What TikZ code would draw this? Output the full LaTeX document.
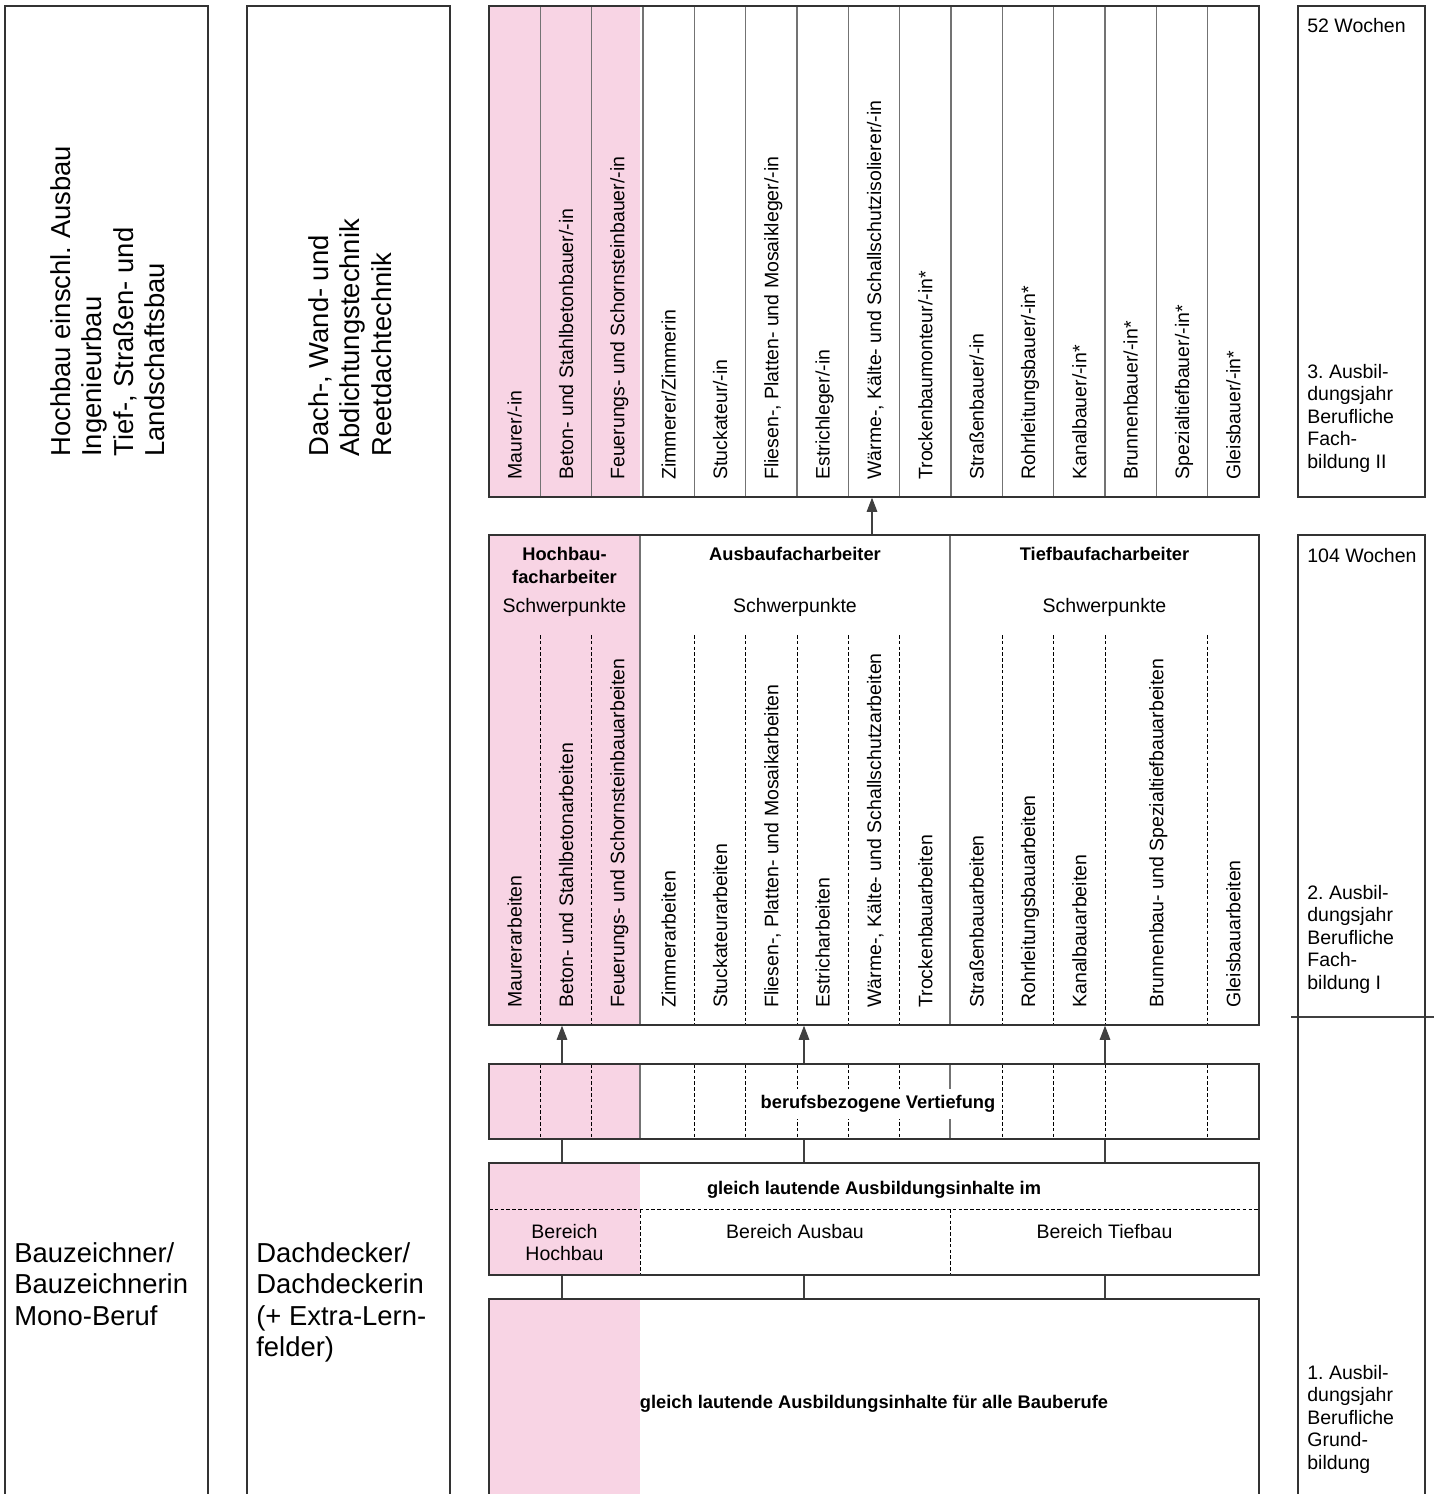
\documentclass[tikz,border=0pt]{standalone}
\usepackage{fontspec}
\setmainfont{Liberation Sans}
\usetikzlibrary{fit,arrows.meta}
\definecolor{hochbaupink}{RGB}{248,212,228}
\tikzset{
  kasten/.style={draw=black!80,line width=0.8pt,inner sep=0pt},
  sep/.style={black!55,line width=0.9pt},
  dotsep/.style={black,line width=0.45pt,dash pattern=on 2pt off 1.3pt},
  beruf/.style={rotate=90,anchor=base west,inner sep=0pt,font=\fontsize{11.1}{12.8}\selectfont},
  txt/.style={inner sep=0pt,align=left,font=\fontsize{11.1}{12.8}\selectfont},
  head/.style={inner sep=0pt,align=center,font=\fontsize{10.4}{13.1}\selectfont\bfseries},
  big/.style={inner sep=0pt,align=left,font=\fontsize{15.6}{17.9}\selectfont},
  arr/.style={black!75,line width=0.6pt,-{Triangle[length=8pt,width=6pt]}},
  link/.style={black!75,line width=0.6pt}
}
\newcommand\colw{51.333}
\frenchspacing
\begin{document}
\begin{tikzpicture}[x=0.02cm,y=-0.02cm]
\clip (0,0) rectangle (1434,1494);
\fill[white] (0,0) rectangle (1434,1494);

\fill[hochbaupink] (489,6) rectangle (640,497);
\fill[hochbaupink] (489,535) rectangle (640,1025);
\fill[hochbaupink] (489,1064) rectangle (640,1139);
\fill[hochbaupink] (489,1163) rectangle (640,1275);
\fill[hochbaupink] (489,1299) rectangle (640,1510);

\foreach \i in {1,...,14}
  \draw[sep] ({489+\i*\colw},6) -- ({489+\i*\colw},497);
\foreach \xx in {640,950} {
  \draw[sep] (\xx,535) -- (\xx,1025);
  \draw[sep] (\xx,1064) -- (\xx,1139);
  \draw[dotsep] (\xx,1209) -- (\xx,1275);
}
\foreach \i in {1,2,4,5,6,7,8,10,11,12,14} {
  \draw[dotsep] ({489+\i*\colw},635) -- ({489+\i*\colw},1025);
  \draw[dotsep] ({489+\i*\colw},1064) -- ({489+\i*\colw},1139);
}
\draw[dotsep] (489,1209) -- (1259,1209);
\draw[sep,black!75] (1291,1017) -- (1434,1017);

\node[kasten,fit={(5,6) (208,1510)}] (feld1) {};
\node[kasten,fit={(247,6) (450,1510)}] (feld2) {};
\node[kasten,fit={(489,6) (1259,497)}] (berufe) {};
\node[kasten,fit={(489,535) (1259,1025)}] (fach) {};
\node[kasten,fit={(489,1064) (1259,1139)}] (vert) {};
\node[kasten,fit={(489,1163) (1259,1275)}] (inhalt) {};
\node[kasten,fit={(489,1299) (1259,1510)}] (grund) {};
\node[kasten,fit={(1298,6) (1425,497)}] (jahr3) {};
\node[kasten,fit={(1298,535) (1425,1510)}] (jahr12) {};

\foreach \txt [count=\i] in {{Maurer/-in},{Beton- und Stahlbetonbauer/-in},{Feuerungs- und Schornsteinbauer/-in},{Zimmerer/Zimmerin},{Stuckateur/-in},{Fliesen-, Platten- und Mosaikleger/-in},{Estrichleger/-in},{Wärme-, Kälte- und Schallschutzisolierer/-in},{Trockenbaumonteur/-in*},{Straßenbauer/-in},{Rohrleitungsbauer/-in*},{Kanalbauer/-in*},{Brunnenbauer/-in*},{Spezialtiefbauer/-in*},{Gleisbauer/-in*}}
  \node[beruf] (b\i) at ({489+(\i-0.5)*\colw+7},480) {\txt};

\foreach \pos/\txt in {1/Maurerarbeiten,2/Beton- und Stahlbetonarbeiten,3/Feuerungs- und Schornsteinbauarbeiten,4/Zimmerarbeiten,5/Stuckateurarbeiten,6/{Fliesen-, Platten- und Mosaikarbeiten},7/Estricharbeiten,8/{Wärme-, Kälte- und Schallschutzarbeiten},9/Trockenbauarbeiten,10/Straßenbauarbeiten,11/Rohrleitungsbauarbeiten,12/Kanalbauarbeiten,13.5/Brunnenbau- und Spezialtiefbauarbeiten,15/Gleisbauarbeiten}
  \node[beruf] (s\pos) at ({489+(\pos-0.5)*\colw+7},1008) {\txt};

\node[head,anchor=north] (hhead) at (564.5,547) {Hochbau-\\facharbeiter};
\node[head,anchor=base] (ahead) at (795,560) {Ausbaufacharbeiter};
\node[head,anchor=base] (thead) at (1104.5,560) {Tiefbaufacharbeiter};
\foreach \xx/\n in {564.5/h,795/a,1104.5/t}
  \node[txt,anchor=base] (sp\n) at (\xx,612) {Schwerpunkte};

\node[head,fill=white,inner sep=3.5pt] (vtext) at (878,1104) {berufsbezogene Vertiefung};
\node[head,anchor=base] (itext) at (874,1194) {gleich lautende Ausbildungsinhalte im};
\node[txt,align=center,anchor=north] (bh) at (564.5,1224) {Bereich\\Hochbau};
\node[txt,anchor=base] (ba) at (795,1238) {Bereich Ausbau};
\node[txt,anchor=base] (bt) at (1104.5,1238) {Bereich Tiefbau};
\node[head,anchor=base] (gtext) at (874,1408) {gleich lautende Ausbildungsinhalte für alle Bauberufe};

\node[txt,anchor=base west] (w52) at (1307,32) {52 Wochen};
\node[txt,anchor=north west] (j3) at (1307,364) {3. Ausbil-\\dungsjahr\\Berufliche\\Fach-\\bildung II};
\node[txt,anchor=base west] (w104) at (1307,562) {104 Wochen};
\node[txt,anchor=north west] (j2) at (1307,885) {2. Ausbil-\\dungsjahr\\Berufliche\\Fach-\\bildung I};
\node[txt,anchor=north west] (j1) at (1307,1365) {1. Ausbil-\\dungsjahr\\Berufliche\\Grund-\\bildung};

\node[big,rotate=90,anchor=north west] (bereich1) at (50,457) {Hochbau einschl. Ausbau\\Ingenieurbau\\Tief-, Straßen- und\\Landschaftsbau};
\node[big,rotate=90,anchor=north west] (bereich2) at (308,457) {Dach-, Wand- und\\Abdichtungstechnik\\Reetdachtechnik};
\node[big,anchor=north west] (mono) at (14,1242) {Bauzeichner/\\Bauzeichnerin\\Mono-Beruf};
\node[big,anchor=north west] (dach) at (256,1242) {Dachdecker/\\Dachdeckerin\\(+ Extra-Lern-\\felder)};

\coordinate (xw) at (872,0);
\coordinate (xh) at (562,0);
\coordinate (xa) at (804,0);
\coordinate (xt) at (1105,0);
\draw[arr] (fach.north -| xw) -- (berufe.south -| xw);
\foreach \c in {xh,xa,xt} {
  \draw[arr] (vert.north -| \c) -- (fach.south -| \c);
  \draw[link] (inhalt.north -| \c) -- (vert.south -| \c);
  \draw[link] (grund.north -| \c) -- (inhalt.south -| \c);
}
\end{tikzpicture}
\end{document}
